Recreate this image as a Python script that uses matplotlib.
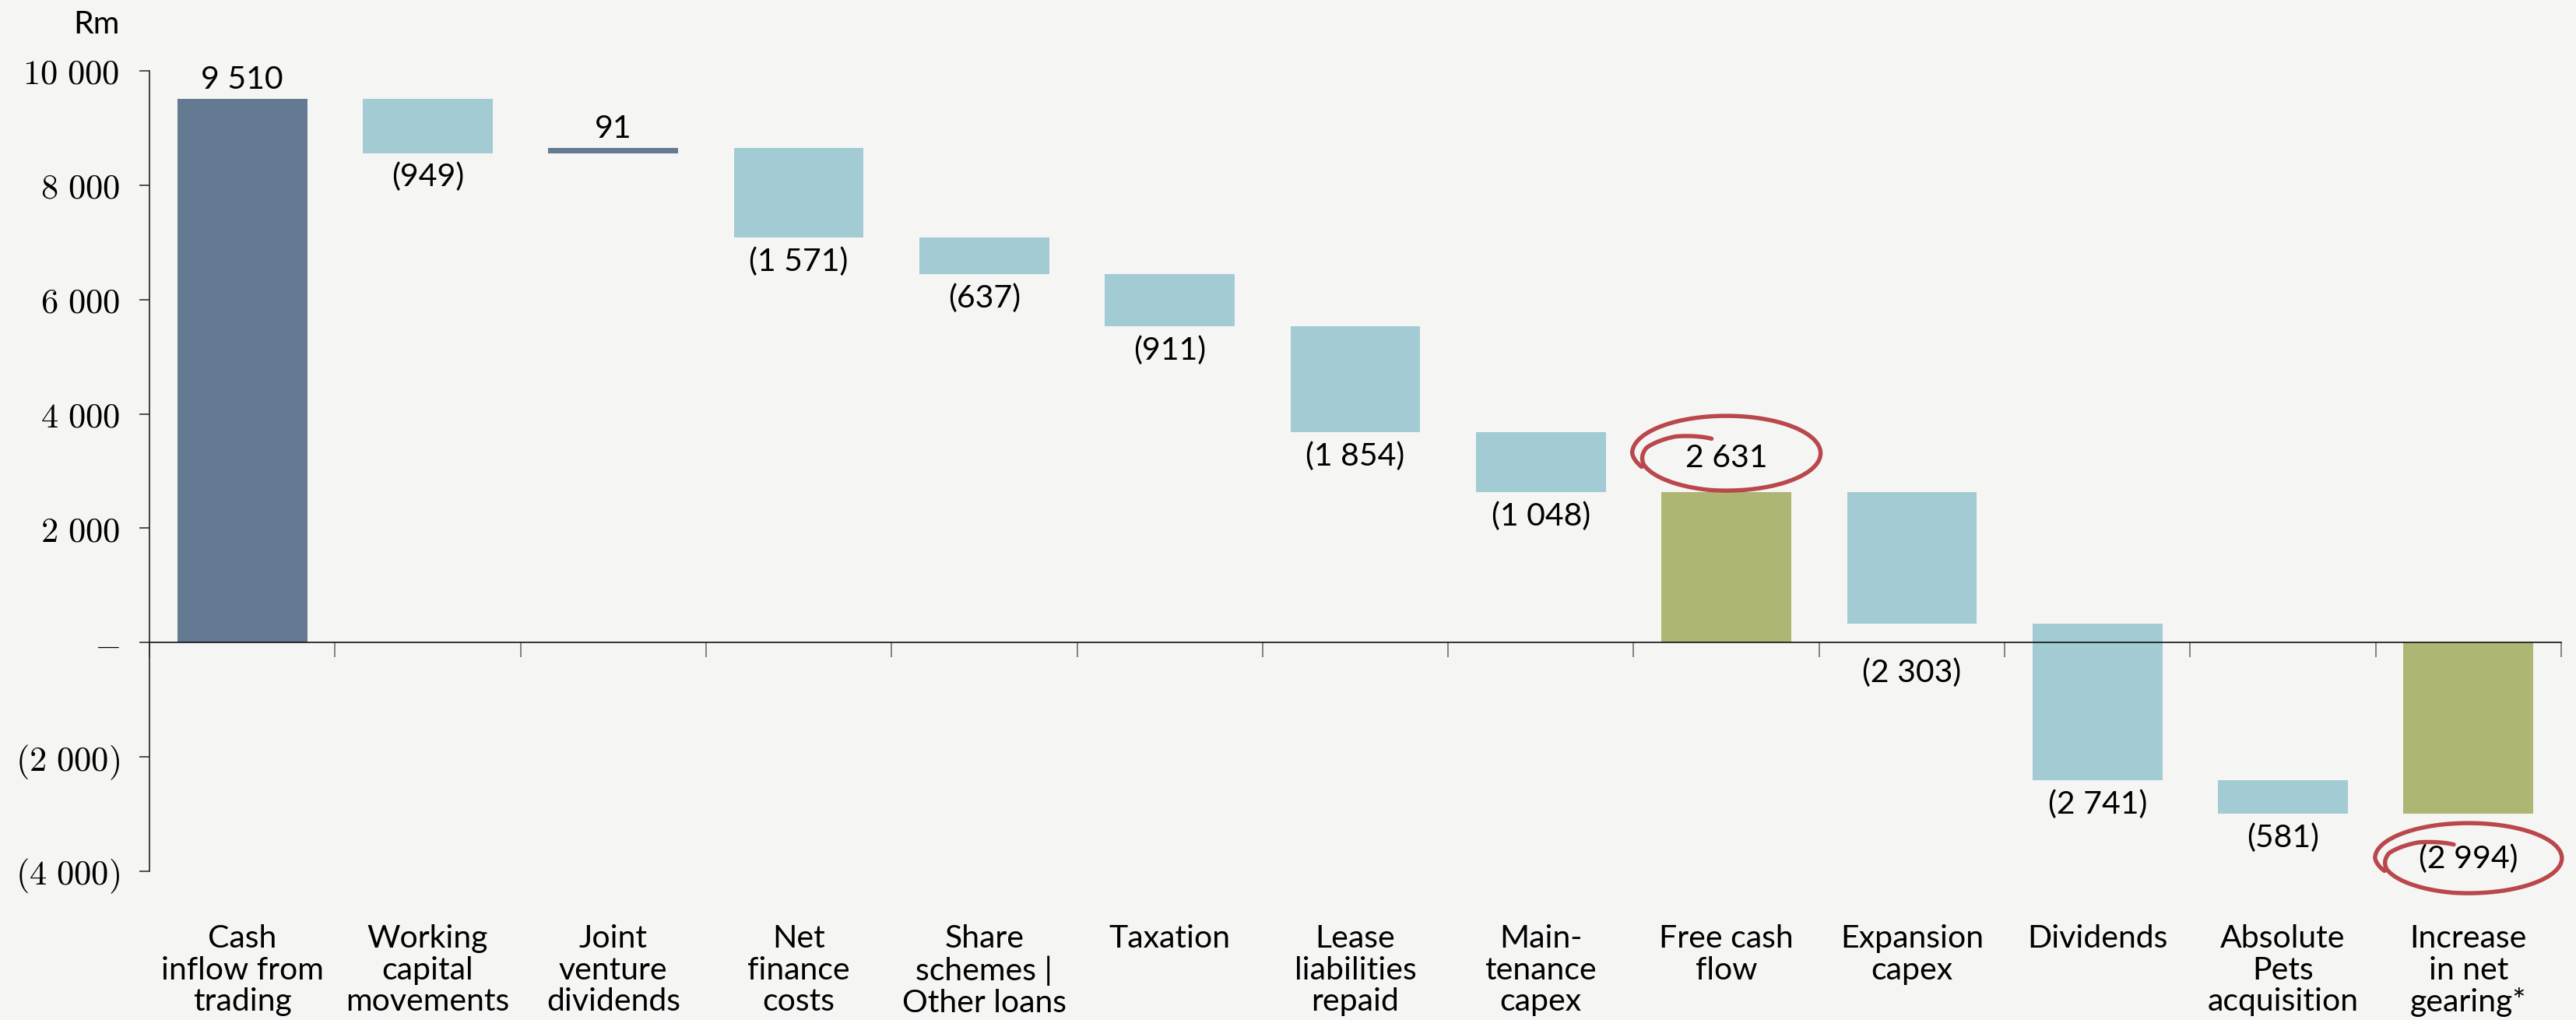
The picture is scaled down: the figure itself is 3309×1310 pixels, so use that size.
import numpy as np
import matplotlib
matplotlib.use("Agg")
import matplotlib.pyplot as plt
from matplotlib.lines import Line2D
from matplotlib.transforms import IdentityTransform

# ---- data -------------------------------------------------------------
categories = [
    "Cash\ninflow from\ntrading",
    "Working\ncapital\nmovements",
    "Joint\nventure\ndividends",
    "Net\nfinance\ncosts",
    "Share\nschemes |\nOther loans",
    "Taxation",
    "Lease\nliabilities\nrepaid",
    "Main-\ntenance\ncapex",
    "Free cash\nflow",
    "Expansion\ncapex",
    "Dividends",
    "Absolute\nPets\nacquisition",
    "Increase\nin net\ngearing*",
]
values = [9510, -949, 91, -1571, -637, -911, -1854, -1048, 2631, -2303, -2741, -581, -2994]
is_total = [False, False, False, False, False, False, False, False, True, False, False, False, True]
highlighted = [8, 12]

y_ticks = [10000, 8000, 6000, 4000, 2000, 0, -2000, -4000]

# ---- styling ----------------------------------------------------------
BG = "#F5F5F3"
C_UP = "#647A92"
C_DOWN = "#A2CBD3"
C_TOTAL = "#AFB572"
C_RING = "#B9474B"
SANS = ["Lato", "DejaVu Sans"]
FS = 29.5
plt.rcParams["mathtext.fontset"] = "cm"

W, H, DPI = 3309, 1310, 100
fig = plt.figure(figsize=(W / DPI, H / DPI), dpi=DPI, facecolor=BG)
ax = fig.add_axes([192 / W, 1 - 1119 / H, (3290 - 192) / W, (1119 - 91) / H])
ax.set_facecolor(BG)

# ---- waterfall geometry from the values -------------------------------
x = np.arange(len(values))
bottoms, heights, colors = [], [], []
running = 0
for v, tot in zip(values, is_total):
    if tot:
        bottoms.append(0)
        heights.append(v)
        colors.append(C_TOTAL)
        running = v
    else:
        bottoms.append(running)
        heights.append(v)
        colors.append(C_UP if v > 0 else C_DOWN)
        running += v

ax.bar(x, heights, bottom=bottoms, width=0.70, color=colors, linewidth=0, zorder=2)

ax.set_xlim(-0.5, len(values) - 0.5)
ax.set_ylim(-4000, 10000)


def fmt(v):
    s = f"{abs(v):,}".replace(",", " ")
    return f"({s})" if v < 0 else s


# value labels
for i, (v, b) in enumerate(zip(values, bottoms)):
    top = max(b, b + v)
    low = min(b, b + v)
    kw = dict(ha="center", fontsize=FS, family=SANS, zorder=4, textcoords="offset pixels")
    if v > 0:
        if i in highlighted:
            ax.annotate(fmt(v), (i, top), xytext=(0, 44), va="center", **kw)
        else:
            ax.annotate(fmt(v), (i, top), xytext=(0, 13), va="baseline", **kw)
    else:
        if i in highlighted:
            ax.annotate(fmt(v), (i, low), xytext=(0, -58), va="center", **kw)
        elif 0 < low < 800:
            # keep the label clear of the zero line
            ax.annotate(fmt(v), (i, 0), xytext=(0, -20), va="top", **kw)
        else:
            ax.annotate(fmt(v), (i, low), xytext=(0, -12), va="top", **kw)

# ---- axes ---------------------------------------------------------------
for s in ("top", "right"):
    ax.spines[s].set_visible(False)
ax.spines["left"].set_linewidth(1.2)
ax.spines["left"].set_color("#222222")
ax.spines["bottom"].set_position(("data", 0))
ax.spines["bottom"].set_linewidth(1.2)
ax.spines["bottom"].set_color("#111111")
ax.spines["bottom"].set_zorder(3)

ax.set_xticks(np.arange(len(values) + 1) - 0.5)
ax.set_xticklabels([])
ax.tick_params(axis="x", direction="out", length=14, width=1.3, color="#7a7a7a")

ax.set_yticks(y_ticks)
ylabels = []
for t in y_ticks:
    if t == 0:
        ylabels.append(r"$\mathbf{-}$")
    else:
        s = f"{abs(t):,}".replace(",", r"\ ")
        ylabels.append(rf"$\mathbf{{({s})}}$" if t < 0 else rf"$\mathbf{{{s}}}$")
ax.set_yticklabels(ylabels, fontsize=32)
ax.tick_params(axis="y", direction="out", length=9.5, width=1.2, color="#333333", pad=18)

# category labels under the plot
for i, c in enumerate(categories):
    ax.annotate(c, (i, -4000), xytext=(0, -68), textcoords="offset pixels",
                ha="center", va="top", fontsize=FS, family=SANS, linespacing=1.12)

fig.text(154 / W, 1 - 43 / H, "Rm", ha="right", va="baseline", fontsize=FS, family=SANS)


# ---- hand-drawn rings around the highlighted totals --------------------
def ring(cx, cy, rx, ry):
    deg = np.linspace(112, 562, 500)
    r = np.interp(deg, [112, 140, 170, 200, 260, 470, 540, 562],
                  [0.42, 0.70, 0.86, 0.93, 1.0, 1.0, 1.0, 0.97])
    th = np.deg2rad(deg)
    xs = cx + rx * r * np.cos(th)
    ys = cy + ry * r * np.sin(th)
    fig.add_artist(Line2D(xs, ys, transform=IdentityTransform(), color=C_RING,
                          lw=3.9, solid_capstyle="round", solid_joinstyle="round", zorder=5))


fig.canvas.draw()
for i in highlighted:
    v, b = values[i], bottoms[i]
    px, py = ax.transData.transform((i, b + v))
    if v > 0:
        ring(px, py + 50, 121, 48)
    else:
        ring(px, py - 57, 120, 45)

fig.savefig("out.png", dpi=DPI, facecolor=BG)
